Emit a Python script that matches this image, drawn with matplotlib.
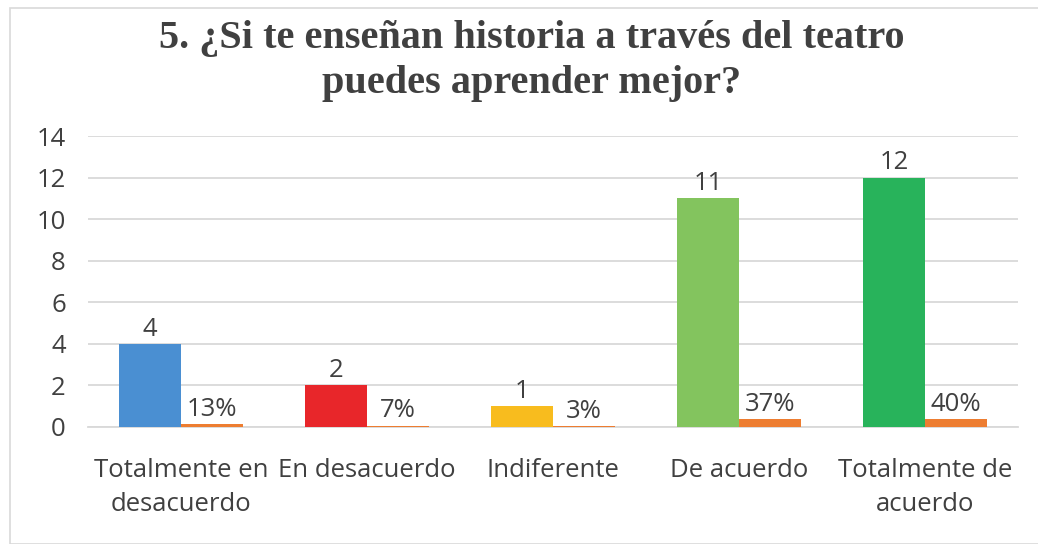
import matplotlib
matplotlib.use("Agg")
import matplotlib.pyplot as plt
from matplotlib.patches import Rectangle
import numpy as np

categories = ["Totalmente en\ndesacuerdo", "En desacuerdo", "Indiferente", "De acuerdo", "Totalmente de\nacuerdo"]
counts = [4, 2, 1, 11, 12]
shares = [0.13, 0.07, 0.03, 0.37, 0.40]
share_labels = ["13%", "7%", "3%", "37%", "40%"]
bar_colors = ["#4A8FD2", "#E8262A", "#F8BC1E", "#83C45E", "#28B35B"]
share_color = "#ED7D31"
yticks = [0, 2, 4, 6, 8, 10, 12, 14]
title = "5. ¿Si te enseñan historia a través del teatro\npuedes aprender mejor?"

txt = "#404040"
fs = 18.5
fig = plt.figure(figsize=(10.38, 5.44), dpi=100)
fig.patches.append(Rectangle((10/1038, 0), 1.2, 1 - 8/544, transform=fig.transFigure,
                             fill=False, edgecolor="#D9D9D9", linewidth=1.2))
ax = fig.add_axes([88/1038, 1 - 427/544, 930/1038, 291/544])

x = np.arange(len(categories))
w = 1/3
ax.bar(x - w/2, counts, width=w, color=bar_colors, zorder=3)
ax.bar(x + w/2, shares, width=w, color=share_color, zorder=3)

for xi, c in zip(x, counts):
    ax.text(xi - w/2, c + 0.1, str(c), ha="center", va="bottom", fontsize=fs, color=txt, family="Open Sans")
for xi, s, lab in zip(x, shares, share_labels):
    ax.text(xi + w/2, s + 0.1, lab, ha="center", va="bottom", fontsize=fs, color=txt, family="Open Sans")

ax.set_xlim(-0.5, len(categories) - 0.5)
ax.set_ylim(0, 14)
ax.set_yticks(yticks)
ax.set_xticks(x)
ax.set_xticklabels(categories, fontsize=fs, color=txt, family="Open Sans", linespacing=1.5)
ax.tick_params(axis="y", labelsize=fs, labelcolor=txt, length=0, pad=16)
ax.tick_params(axis="x", length=0, pad=22)
for lab in ax.get_yticklabels():
    lab.set_family("Open Sans")
ax.grid(axis="y", color="#D9D9D9", linewidth=1.3, zorder=0)
for sp in ["top", "right", "left"]:
    ax.spines[sp].set_visible(False)
ax.spines["bottom"].set_color("#D9D9D9")
ax.spines["bottom"].set_linewidth(1.3)

fig.text(532/1038, 1 - 61/544, title, ha="center", va="center", fontsize=29,
         fontweight="bold", family="Liberation Serif", color="#404040", linespacing=1.3)

fig.savefig("out.png", dpi=100)
